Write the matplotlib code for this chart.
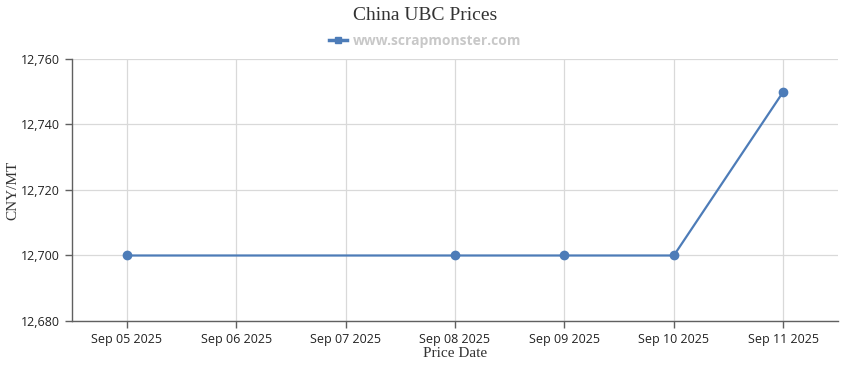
import numpy as np
import matplotlib
import matplotlib.pyplot as plt
from matplotlib.ticker import FuncFormatter
from matplotlib.lines import Line2D

matplotlib.use('Agg')

# Данные графика
categories = ['Sep 05 2025', 'Sep 06 2025', 'Sep 07 2025', 'Sep 08 2025',
              'Sep 09 2025', 'Sep 10 2025', 'Sep 11 2025']
prices = [12700, None, None, 12700, 12700, 12700, 12750]
y_ticks = [12680, 12700, 12720, 12740, 12760]

line_color = '#4d7cb8'
grid_color = '#d9d9d9'
axis_color = '#606060'

fig = plt.figure(figsize=(8.5, 3.7), dpi=100)
ax = fig.add_axes([72 / 850, 1 - 321 / 370, (838 - 72) / 850, (321 - 59) / 370])

# Пропущенные даты пропускаем, точки соединяем напрямую
xs = [i for i, v in enumerate(prices) if v is not None]
ys = [v for v in prices if v is not None]
ax.plot(xs, ys, color=line_color, linewidth=1.6, marker='o', markersize=6,
        zorder=3, clip_on=False)

ax.set_xlim(-0.5, len(categories) - 0.5)
ax.set_ylim(y_ticks[0], y_ticks[-1])
ax.set_xticks(range(len(categories)))
ax.set_xticklabels(categories)
ax.set_yticks(y_ticks)
ax.yaxis.set_major_formatter(FuncFormatter(lambda v, p: '{:,.0f}'.format(v)))

ax.grid(True, color=grid_color, linewidth=0.9)
ax.set_axisbelow(True)

for side in ['top', 'right']:
    ax.spines[side].set_visible(False)
for side in ['left', 'bottom']:
    ax.spines[side].set_color(axis_color)
    ax.spines[side].set_linewidth(1.0)

ax.tick_params(axis='both', colors=axis_color, length=5, width=1, labelsize=9,
               labelcolor='#222222')
ax.tick_params(axis='x', pad=4)
for lbl in ax.get_xticklabels() + ax.get_yticklabels():
    lbl.set_fontfamily('Open Sans')

ax.set_xlabel('Price Date', fontfamily='Liberation Serif', fontsize=11,
              color='#333333')
ax.xaxis.set_label_coords(0.5, -0.098)
ax.set_ylabel('CNY/MT', fontfamily='Liberation Serif', fontsize=11,
              color='#333333')
ax.yaxis.set_label_coords(-0.069, 0.5)

fig.text(0.5, 1 - 16 / 370, 'China UBC Prices', ha='center', va='center',
         fontfamily='Liberation Serif', fontsize=14, color='#333333')

# Легенда с водяным знаком
handle = Line2D([], [], color=line_color, linewidth=2.5, marker='s', markersize=5)
fig.legend([handle], ['www.scrapmonster.com'], loc='center',
           bbox_to_anchor=(0.5, 1 - 41 / 370), frameon=False, handlelength=1.3,
           handletextpad=0.4,
           prop={'family': 'Open Sans', 'weight': 'bold', 'size': 10},
           labelcolor='#c8c8c8')

fig.savefig('out.png', dpi=100)
